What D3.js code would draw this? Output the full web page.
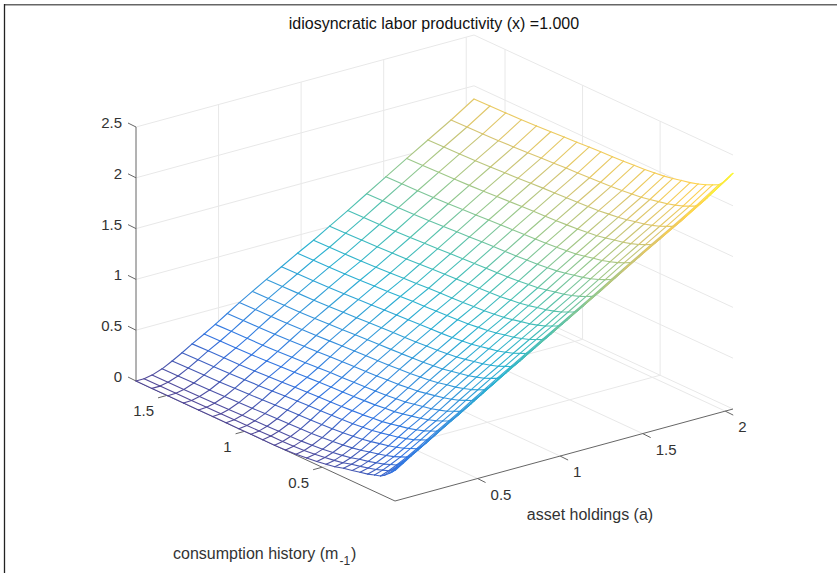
<!DOCTYPE html>
<html>
<head>
<meta charset="utf-8">
<script src="https://cdn.jsdelivr.net/npm/d3@7"></script>
<style>
  html, body { margin: 0; padding: 0; background: #fff; }
  text { font-family: "Liberation Sans", sans-serif; }
</style>
</head>
<body>
<script>
var titleText = "idiosyncratic labor productivity (x) =1.000";
var aTicks = [0.5, 1, 1.5, 2];
var mTicks = [0.5, 1, 1.5];
var zTicks = [0, 0.5, 1, 1.5, 2, 2.5];

// asset grid, read from the m = max edge
var aGrid = [0, 0.049, 0.097, 0.158, 0.219, 0.279, 0.34, 0.413, 0.48, 0.553, 0.626, 0.705,
  0.79, 0.881, 0.978, 1.075, 1.173, 1.282, 1.397, 1.513, 1.64, 1.768, 1.908, 2.047];
// consumption history grid, read from the a = max edge
var mGrid = [1.7, 1.597, 1.495, 1.394, 1.297, 1.205, 1.119, 1.037, 0.958, 0.883, 0.807, 0.736, 0.668,
  0.599, 0.534, 0.474, 0.418, 0.362, 0.306, 0.255, 0.205, 0.162, 0.123, 0.097, 0.065, 0.05, 0.04, 0.03];

// one row per aGrid value, one column per mGrid value
var zValues = [
[0,0,0,0,0,0,0,0,0,0,0,.003,.009,.021,.033,.048,.063,.087,.105,.123,.141,.162,.18,.207,.249,.27,.288,.3],
[0,.001,.002,.003,.005,.007,.008,.01,.012,.014,.015,.019,.025,.037,.05,.064,.08,.105,.124,.144,.165,.189,.21,.242,.29,.315,.336,.35],
[.015,.017,.018,.021,.023,.027,.03,.034,.037,.04,.042,.047,.054,.065,.078,.092,.109,.133,.152,.174,.196,.223,.246,.281,.335,.362,.385,.4],
[.05,.052,.055,.058,.063,.068,.073,.078,.083,.087,.091,.096,.103,.113,.125,.139,.156,.178,.197,.219,.243,.271,.296,.333,.39,.419,.444,.46],
[.1,.103,.106,.11,.116,.122,.129,.135,.142,.146,.151,.156,.163,.172,.184,.196,.213,.233,.251,.273,.299,.327,.352,.389,.447,.478,.503,.52],
[.155,.159,.163,.167,.174,.181,.189,.197,.204,.21,.215,.221,.228,.235,.247,.257,.273,.292,.309,.331,.356,.385,.411,.447,.506,.538,.563,.58],
[.215,.219,.223,.227,.234,.241,.249,.257,.264,.27,.275,.281,.288,.295,.307,.317,.333,.352,.369,.391,.416,.445,.471,.507,.566,.598,.623,.64],
[.28,.284,.288,.292,.299,.307,.314,.322,.33,.335,.341,.347,.354,.361,.373,.383,.4,.418,.436,.458,.483,.512,.539,.575,.636,.667,.693,.71],
[.345,.349,.353,.357,.364,.372,.379,.387,.395,.4,.406,.412,.419,.426,.438,.448,.465,.483,.501,.523,.548,.577,.604,.64,.701,.732,.758,.775],
[.42,.424,.428,.432,.439,.447,.454,.462,.47,.475,.481,.487,.494,.501,.513,.523,.54,.558,.576,.598,.623,.652,.679,.715,.776,.807,.833,.85],
[.495,.499,.503,.507,.514,.521,.529,.537,.544,.55,.555,.561,.568,.575,.587,.597,.613,.632,.649,.671,.696,.725,.751,.787,.846,.878,.903,.92],
[.57,.574,.578,.582,.589,.597,.604,.612,.62,.625,.631,.637,.644,.651,.663,.673,.69,.708,.726,.748,.773,.802,.829,.865,.926,.957,.983,1],
[.65,.654,.658,.662,.669,.677,.684,.692,.7,.705,.711,.717,.724,.731,.743,.753,.77,.788,.806,.828,.853,.882,.909,.945,1.006,1.037,1.063,1.08],
[.735,.739,.743,.748,.754,.762,.77,.778,.785,.791,.797,.803,.809,.817,.829,.839,.856,.875,.892,.915,.941,.97,.997,1.034,1.095,1.127,1.153,1.17],
[.825,.829,.833,.838,.844,.852,.86,.868,.876,.882,.887,.894,.9,.908,.92,.931,.947,.967,.984,1.007,1.033,1.063,1.09,1.127,1.189,1.221,1.247,1.265],
[.91,.914,.918,.923,.93,.938,.946,.954,.962,.968,.974,.98,.987,.995,1.007,1.018,1.035,1.055,1.073,1.096,1.123,1.153,1.181,1.219,1.282,1.315,1.342,1.36],
[1.005,1.009,1.013,1.018,1.025,1.033,1.041,1.049,1.057,1.063,1.069,1.075,1.082,1.09,1.102,1.113,1.13,1.15,1.168,1.191,1.218,1.248,1.276,1.314,1.377,1.41,1.437,1.455],
[1.11,1.114,1.118,1.123,1.13,1.138,1.146,1.154,1.162,1.168,1.174,1.18,1.187,1.195,1.207,1.218,1.235,1.255,1.273,1.296,1.323,1.353,1.381,1.419,1.482,1.515,1.542,1.56],
[1.225,1.229,1.233,1.238,1.245,1.253,1.261,1.269,1.277,1.283,1.289,1.295,1.302,1.31,1.322,1.333,1.35,1.37,1.388,1.411,1.438,1.468,1.496,1.534,1.597,1.63,1.657,1.675],
[1.34,1.344,1.348,1.353,1.36,1.368,1.376,1.384,1.392,1.398,1.404,1.41,1.417,1.425,1.437,1.448,1.465,1.485,1.503,1.526,1.553,1.583,1.611,1.649,1.712,1.745,1.772,1.79],
[1.465,1.469,1.473,1.478,1.485,1.493,1.501,1.509,1.517,1.522,1.528,1.534,1.541,1.549,1.561,1.572,1.589,1.608,1.626,1.649,1.675,1.705,1.733,1.771,1.833,1.866,1.892,1.91],
[1.59,1.594,1.598,1.603,1.609,1.617,1.625,1.633,1.641,1.647,1.652,1.659,1.665,1.673,1.685,1.696,1.712,1.732,1.749,1.772,1.798,1.828,1.855,1.892,1.954,1.986,2.012,2.03],
[1.725,1.729,1.733,1.738,1.745,1.753,1.761,1.769,1.777,1.782,1.788,1.794,1.801,1.809,1.821,1.832,1.849,1.868,1.886,1.909,1.935,1.965,1.993,2.031,2.093,2.126,2.152,2.17],
[1.87,1.874,1.878,1.883,1.89,1.898,1.906,1.914,1.922,1.928,1.934,1.94,1.947,1.955,1.967,1.978,1.995,2.015,2.033,2.056,2.083,2.113,2.141,2.179,2.242,2.275,2.302,2.32]
];

// parula colormap stops
var parula = ["#352a87", "#0f5cdd", "#1481d6", "#06a4ca", "#2eb7a4", "#87bf77", "#d1bb59", "#fec832", "#f9fb0e"];

var width = 837, height = 573;
var aMin = 0, aMax = 2.047, mMin = 0.03, mMax = 1.7, zMax = 2.5;

var svg = d3.select("body").append("svg")
    .attr("width", width)
    .attr("height", height)
    .style("display", "block");

// the box is a parallel projection, so each data axis gets its own screen scales
var aToX = d3.scaleLinear().domain([aMin, aMax]).range([0, 338]);
var aToY = d3.scaleLinear().domain([aMin, aMax]).range([0, -92]);
var mToX = d3.scaleLinear().domain([mMax, mMin]).range([0, 259]);
var mToY = d3.scaleLinear().domain([mMax, mMin]).range([0, 120]);
var zToY = d3.scaleLinear().domain([0, zMax]).range([0, -254]);

function project(a, m, z) {
  return [136 + aToX(a) + mToX(m), 381 + aToY(a) + mToY(m) + zToY(z)];
}

var color = d3.scaleLinear()
    .domain(d3.range(parula.length).map(function(i) { return i / (parula.length - 1) * 2.32; }))
    .range(parula);

var line = d3.line();

// frame round the picture
svg.append("line")
    .attr("x1", 4).attr("x2", 837).attr("y1", 4.75).attr("y2", 4.75)
    .attr("stroke", "#666").attr("stroke-width", 1.5);
svg.append("line")
    .attr("x1", 4.5).attr("x2", 4.5).attr("y1", 4).attr("y2", 573)
    .attr("stroke", "#222").attr("stroke-width", 1.3);

// grid on the floor and the two back walls
var gridLines = [];
zTicks.forEach(function(z) {
  gridLines.push([project(aMin, mMax, z), project(aMax, mMax, z), project(aMax, mMin, z)]);
});
aTicks.forEach(function(a) {
  gridLines.push([project(a, mMin, 0), project(a, mMax, 0), project(a, mMax, zMax)]);
});
mTicks.forEach(function(m) {
  gridLines.push([project(aMin, m, 0), project(aMax, m, 0), project(aMax, m, zMax)]);
});
svg.append("g").selectAll("path")
    .data(gridLines)
    .join("path")
    .attr("d", line)
    .attr("fill", "none")
    .attr("stroke", "#e8e8e8")
    .attr("stroke-width", 1);

// axis lines and ticks
var axisLines = [
  [project(aMin, mMax, zMax), project(aMin, mMax, 0), project(aMin, mMin, 0), project(aMax, mMin, 0)]
];
zTicks.forEach(function(z) {
  var p = project(aMin, mMax, z);
  axisLines.push([p, [p[0] - 8, p[1] - 4]]);
});
mTicks.forEach(function(m) {
  var p = project(aMin, m, 0);
  axisLines.push([p, [p[0] - 9, p[1] + 2.5]]);
});
aTicks.forEach(function(a) {
  var p = project(a, mMin, 0);
  axisLines.push([p, [p[0] + 8, p[1] + 4]]);
});
svg.append("g").selectAll("path")
    .data(axisLines)
    .join("path")
    .attr("d", line)
    .attr("fill", "none")
    .attr("stroke", "#666")
    .attr("stroke-width", 1);

// white faces back to front, then the mesh lines on top
var cells = [];
for (var i = 0; i < aGrid.length - 1; i++) {
  for (var j = 0; j < mGrid.length - 1; j++) {
    cells.push({i: i, j: j});
  }
}
function vertex(i, j) {
  return project(aGrid[i], mGrid[j], zValues[i][j]);
}
svg.append("g").selectAll("path")
    .data(cells)
    .join("path")
    .attr("d", function(d) {
      return line([vertex(d.i, d.j), vertex(d.i + 1, d.j), vertex(d.i + 1, d.j + 1), vertex(d.i, d.j + 1)]) + "Z";
    })
    .attr("fill", "#fff")
    .attr("stroke", "#fff")
    .attr("stroke-width", 0.5);

var segments = [];
aGrid.forEach(function(a, i) {
  mGrid.forEach(function(m, j) {
    if (j < mGrid.length - 1) segments.push({from: [i, j], to: [i, j + 1]});
    if (i < aGrid.length - 1) segments.push({from: [i, j], to: [i + 1, j]});
  });
});
svg.append("g")
    .attr("opacity", 0.85)
    .selectAll("path")
    .data(segments)
    .join("path")
    .attr("d", function(d) {
      return line([vertex(d.from[0], d.from[1]), vertex(d.to[0], d.to[1])]);
    })
    .attr("fill", "none")
    .attr("stroke-width", 1.1)
    .attr("stroke-linecap", "round")
    .attr("stroke", function(d) {
      return color((zValues[d.from[0]][d.from[1]] + zValues[d.to[0]][d.to[1]]) / 2);
    });

// tick labels
svg.append("g").selectAll("text")
    .data(zTicks)
    .join("text")
    .attr("x", 122)
    .attr("y", function(d) { return project(aMin, mMax, d)[1] + 1; })
    .attr("text-anchor", "end")
    .attr("font-size", 15)
    .attr("fill", "#333")
    .text(function(d) { return d; });

svg.append("g").selectAll("text")
    .data(mTicks)
    .join("text")
    .attr("x", function(d) { return project(aMin, d, 0)[0] - 13; })
    .attr("y", function(d) { return project(aMin, d, 0)[1] + 21; })
    .attr("text-anchor", "end")
    .attr("font-size", 15)
    .attr("fill", "#333")
    .text(function(d) { return d; });

svg.append("g").selectAll("text")
    .data(aTicks)
    .join("text")
    .attr("x", function(d) { return project(d, mMin, 0)[0] + 13; })
    .attr("y", function(d) { return project(d, mMin, 0)[1] + 21; })
    .attr("text-anchor", "start")
    .attr("font-size", 15)
    .attr("fill", "#333")
    .text(function(d) { return d; });

// title and axis labels
svg.append("text")
    .attr("x", 434)
    .attr("y", 29)
    .attr("text-anchor", "middle")
    .attr("font-size", 16)
    .attr("fill", "#111")
    .text(titleText);

svg.append("text")
    .attr("x", 590)
    .attr("y", 520)
    .attr("text-anchor", "middle")
    .attr("font-size", 16)
    .attr("fill", "#333")
    .text("asset holdings (a)");

var mLabel = svg.append("text")
    .attr("x", 173)
    .attr("y", 559)
    .attr("font-size", 16)
    .attr("fill", "#333");
mLabel.append("tspan").text("consumption history (m");
mLabel.append("tspan").attr("dx", 1).attr("dy", 6).attr("font-size", 12).text("-1");
mLabel.append("tspan").attr("dx", 1).attr("dy", -6).text(")");
</script>
</body>
</html>
